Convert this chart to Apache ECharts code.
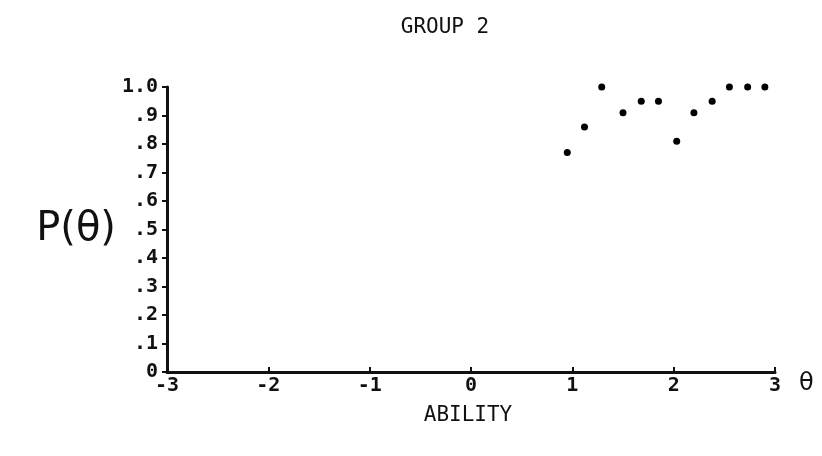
<!DOCTYPE html>
<html>
<head>
<meta charset="utf-8">
<script src="https://cdn.jsdelivr.net/npm/echarts@6/dist/echarts.min.js"></script>
<style>html,body{margin:0;padding:0;background:#fff}#c{width:822px;height:456px}</style>
</head>
<body>
<div id="c"></div>
<script>
const ability = [0.95, 1.12, 1.29, 1.5, 1.68, 1.85, 2.03, 2.2, 2.38, 2.55, 2.73, 2.9];
const probability = [0.77, 0.86, 1.0, 0.91, 0.95, 0.95, 0.81, 0.91, 0.95, 1.0, 1.0, 1.0];
const chartTitle = 'GROUP 2';
const xTitle = 'ABILITY';
const yTitle = 'P(θ)';
const xEndLabel = 'θ';

const mono = 'DejaVu Sans Mono';
const chart = echarts.init(document.getElementById('c'));
chart.setOption({
  animation: false,
  backgroundColor: '#fff',
  title: [
    {text: chartTitle, left: 440, top: 12, textAlign: 'center',
     textStyle: {fontFamily: mono, fontSize: 21, fontWeight: 'normal', color: '#111'}},
    {text: xTitle, left: 463, top: 400, textAlign: 'center',
     textStyle: {fontFamily: mono, fontSize: 21, fontWeight: 'normal', color: '#111'}}
  ],
  grid: {left: 167, right: 47, top: 87, bottom: 84},
  xAxis: {
    type: 'value', min: -3, max: 3, interval: 1,
    name: xEndLabel, nameLocation: 'end', nameGap: 24,
    nameTextStyle: {fontFamily: 'DejaVu Sans', fontSize: 24, color: '#111', verticalAlign: 'top', padding: [0,0,0,0]},
    axisLine: {show: true, onZero: false, lineStyle: {color: '#111', width: 3}},
    axisTick: {show: true, inside: true, length: 5, lineStyle: {color: '#111', width: 2}},
    axisLabel: {fontFamily: mono, fontSize: 20, fontWeight: 'bold', color: '#111', margin: 4},
    splitLine: {show: false}
  },
  yAxis: {
    type: 'value', min: 0, max: 1, interval: 0.1,
    name: yTitle, nameLocation: 'middle', nameRotate: 0, nameGap: 44,
    nameTextStyle: {fontFamily: 'DejaVu Sans', fontSize: 40, color: '#111'},
    axisLine: {show: true, onZero: false, lineStyle: {color: '#111', width: 3}},
    axisTick: {show: true, length: 5, lineStyle: {color: '#111', width: 2}},
    axisLabel: {fontFamily: mono, fontSize: 20, fontWeight: 'bold', color: '#111', margin: 9,
      formatter: v => { const r = Math.round(v * 10); return r === 10 ? '1.0' : (r === 0 ? '0' : '.' + r); }},
    splitLine: {show: false}
  },
  series: [{
    type: 'scatter',
    data: ability.map((x, i) => [x, probability[i]]),
    symbol: 'circle', symbolSize: 7,
    itemStyle: {color: '#000', opacity: 1}
  }]
});
</script>
</body>
</html>
